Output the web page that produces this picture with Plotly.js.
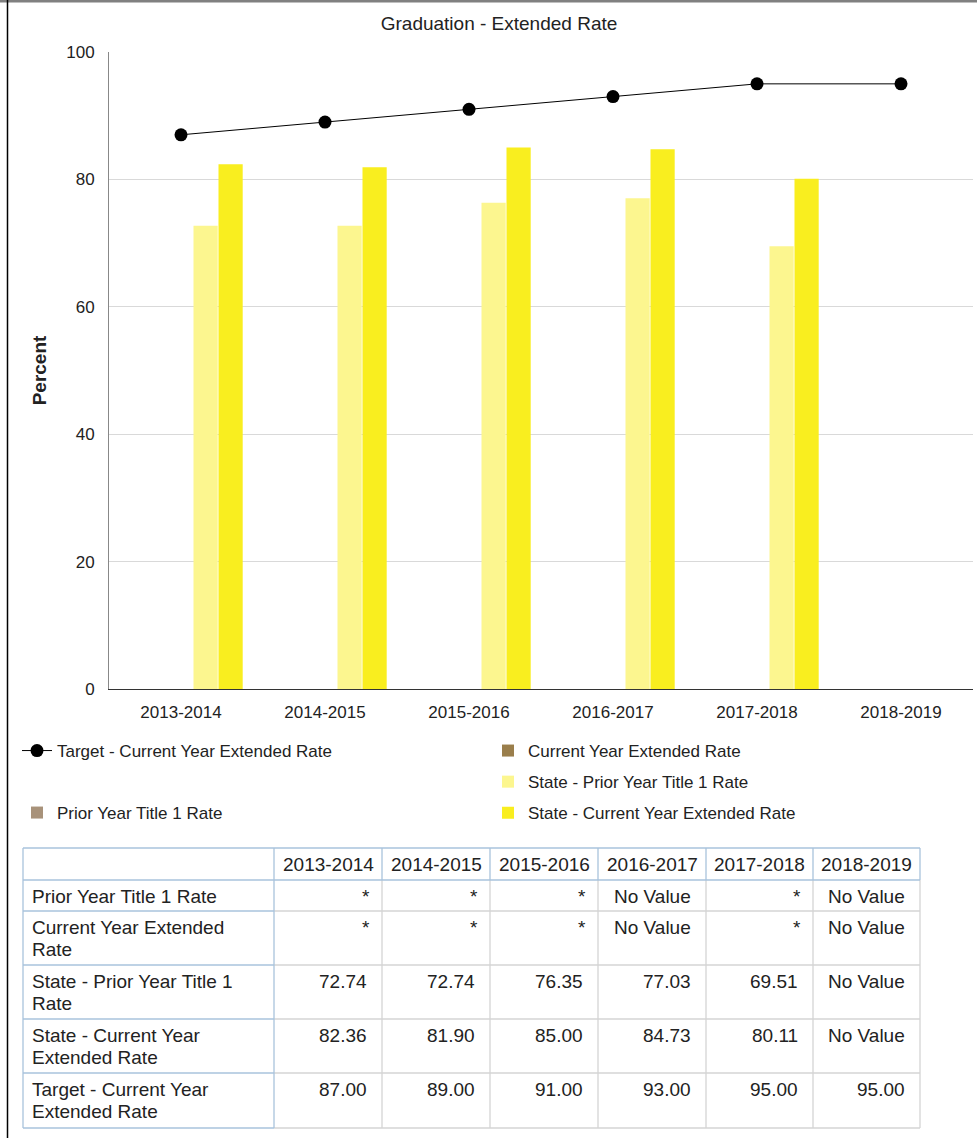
<!DOCTYPE html>
<html>
<head>
<meta charset="utf-8">
<script src="https://cdn.plot.ly/plotly-3.0.1.min.js"></script>
<style>
html,body{margin:0;padding:0;background:#fff;}
#chart{width:977px;height:1138px;}
</style>
</head>
<body>
<div id="chart"></div>
<script>
// ---- data ----
const categories = ['2013-2014','2014-2015','2015-2016','2016-2017','2017-2018','2018-2019'];
const priorTitle1 = [null, null, null, null, null, null];
const priorTitle1Text = ['*','*','*','No Value','*','No Value'];
const currentExtended = [null, null, null, null, null, null];
const currentExtendedText = ['*','*','*','No Value','*','No Value'];
const statePrior = [72.74, 72.74, 76.35, 77.03, 69.51, null];
const stateCurrent = [82.36, 81.90, 85.00, 84.73, 80.11, null];
const target = [87.00, 89.00, 91.00, 93.00, 95.00, 95.00];
const rowLabelLines = [
  ['Prior Year Title 1 Rate'],
  ['Current Year Extended','Rate'],
  ['State - Prior Year Title 1','Rate'],
  ['State - Current Year','Extended Rate'],
  ['Target - Current Year','Extended Rate']
];

// ---- page geometry (px) ----
const W = 977, H = 1138;
const px = v => v / W;
const py = v => 1 - v / H;
const FONT = 'Liberation Sans, Arial, sans-serif';
const TXT = '#222';

const fmt = arr => arr.map(v => v === null ? 'No Value' : v.toFixed(2));

const slot = 25/144, barW = 24.2/144;

const traces = [
  {type:'scatter', mode:'lines+markers', name:'Target - Current Year Extended Rate', x:categories, y:target,
   line:{color:'#000', width:1}, marker:{color:'#000', size:13}, legend:'legend', hoverinfo:'y'},
  {type:'bar', name:'Prior Year Title 1 Rate', x:categories, y:priorTitle1,
   marker:{color:'#a8927a'}, width:barW, offset:-2.5*slot, legend:'legend3'},
  {type:'bar', name:'Current Year Extended Rate', x:categories, y:currentExtended,
   marker:{color:'#9a7e4b'}, width:barW, offset:-1.5*slot, legend:'legend2', legendgroup:'a'},
  {type:'bar', name:'State - Prior Year Title 1 Rate', x:categories, y:statePrior,
   marker:{color:'#fcf68f'}, width:barW, offset:0.5*slot, legend:'legend2', legendgroup:'b'},
  {type:'bar', name:'State - Current Year Extended Rate', x:categories, y:stateCurrent,
   marker:{color:'#f9ee1f'}, width:barW, offset:1.5*slot, legend:'legend2', legendgroup:'c'}
];

// ---- data table drawn with shapes + annotations ----
const colEdges = [23, 274, 382, 490, 598, 706, 813, 920];
const rowEdges = [848, 880, 911, 965, 1019, 1073, 1128];
const BLUE = '#a9c3dc', GRAY = '#d4d4d4', TF = 19;
const shapes = [
  {type:'line', xref:'paper', yref:'paper', x0:0, x1:1, y0:py(1.2), y1:py(1.2), line:{color:'#808080', width:2.5}},
  {type:'line', xref:'paper', yref:'paper', x0:px(7.5), x1:px(7.5), y0:0, y1:1, line:{color:'#000', width:1.5}}
];
const hline = (x0, x1, y, c) => shapes.push({type:'line', xref:'paper', yref:'paper', x0:px(x0), x1:px(x1), y0:py(y), y1:py(y), line:{color:c, width:1.3}});
const vline = (x, y0, y1, c) => shapes.push({type:'line', xref:'paper', yref:'paper', x0:px(x), x1:px(x), y0:py(y0), y1:py(y1), line:{color:c, width:1.3}});
// gray grid for data cells
rowEdges.slice(2).forEach(y => hline(colEdges[1], colEdges[7], y, GRAY));
colEdges.slice(2).forEach(x => vline(x, rowEdges[1], rowEdges[6], GRAY));
// blue for header row and label column
hline(colEdges[0], colEdges[7], rowEdges[0], BLUE);
hline(colEdges[0], colEdges[7], rowEdges[1], BLUE);
rowEdges.slice(2).forEach(y => hline(colEdges[0], colEdges[1], y, BLUE));
colEdges.forEach(x => vline(x, rowEdges[0], rowEdges[1], BLUE));
vline(colEdges[0], rowEdges[1], rowEdges[6], BLUE);
vline(colEdges[1], rowEdges[1], rowEdges[6], BLUE);

const annotations = [];
const ann = (text, x, y, xanchor) => annotations.push({text, x:px(x), y:py(y), xref:'paper', yref:'paper',
  xanchor, yanchor:'middle', showarrow:false, font:{family:FONT, size:TF, color:TXT}});
categories.forEach((c, i) => ann(c, (colEdges[i+1] + colEdges[i+2]) / 2, 864, 'center'));
rowLabelLines.forEach((lines, r) => lines.forEach((t, k) => ann(t, 30, rowEdges[r+1] + 16 + 22*k, 'left')));
const colVals = categories.map((c, i) => [priorTitle1Text[i], currentExtendedText[i], fmt(statePrior)[i], fmt(stateCurrent)[i], fmt(target)[i]]);
colVals.forEach((vals, i) => vals.forEach((v, r) => ann(v, colEdges[i+2] - (v === '*' ? 10 : 13), rowEdges[r+1] + 16, 'right')));

const legendBase = {font:{family:FONT, size:17, color:TXT}, bgcolor:'rgba(0,0,0,0)', itemwidth:30,
  orientation:'v', xanchor:'left', itemclick:false, itemdoubleclick:false};

const layout = {
  width: W, height: H,
  margin:{l:0, r:0, t:0, b:0},
  paper_bgcolor:'#fff', plot_bgcolor:'#fff',
  font:{family:FONT, size:17, color:TXT},
  title:{text:'Graduation - Extended Rate', x:px(499), xref:'paper', xanchor:'center', y:py(23), yref:'paper', yanchor:'middle',
         font:{family:FONT, size:19, color:TXT}},
  showlegend:true,
  barmode:'overlay',
  xaxis:{type:'category', domain:[px(109), px(973)], range:[-0.5, 5.5], showline:true, linecolor:'#333', linewidth:1,
         ticks:'', showgrid:false, zeroline:false, tickfont:{size:17}, ticklabelstandoff:8, fixedrange:true, anchor:'y'},
  yaxis:{domain:[py(689), py(52)], range:[0,100], dtick:20, showline:true, linecolor:'#888', linewidth:1,
         ticks:'', gridcolor:'#d9d9d9', zeroline:false, tickfont:{size:17}, ticklabelstandoff:10, fixedrange:true,
         title:{text:'<b>Percent</b>', font:{size:19}, standoff:14}},
  legend:Object.assign({}, legendBase, {x:px(17), y:py(751), yanchor:'middle'}),
  legend3:Object.assign({}, legendBase, {x:px(17), y:py(813), yanchor:'middle'}),
  legend2:Object.assign({}, legendBase, {x:px(488), y:py(733), yanchor:'top', tracegroupgap:6, traceorder:'grouped'}),
  shapes, annotations
};

Plotly.newPlot('chart', traces, layout, {displayModeBar:false});
</script>
</body>
</html>
